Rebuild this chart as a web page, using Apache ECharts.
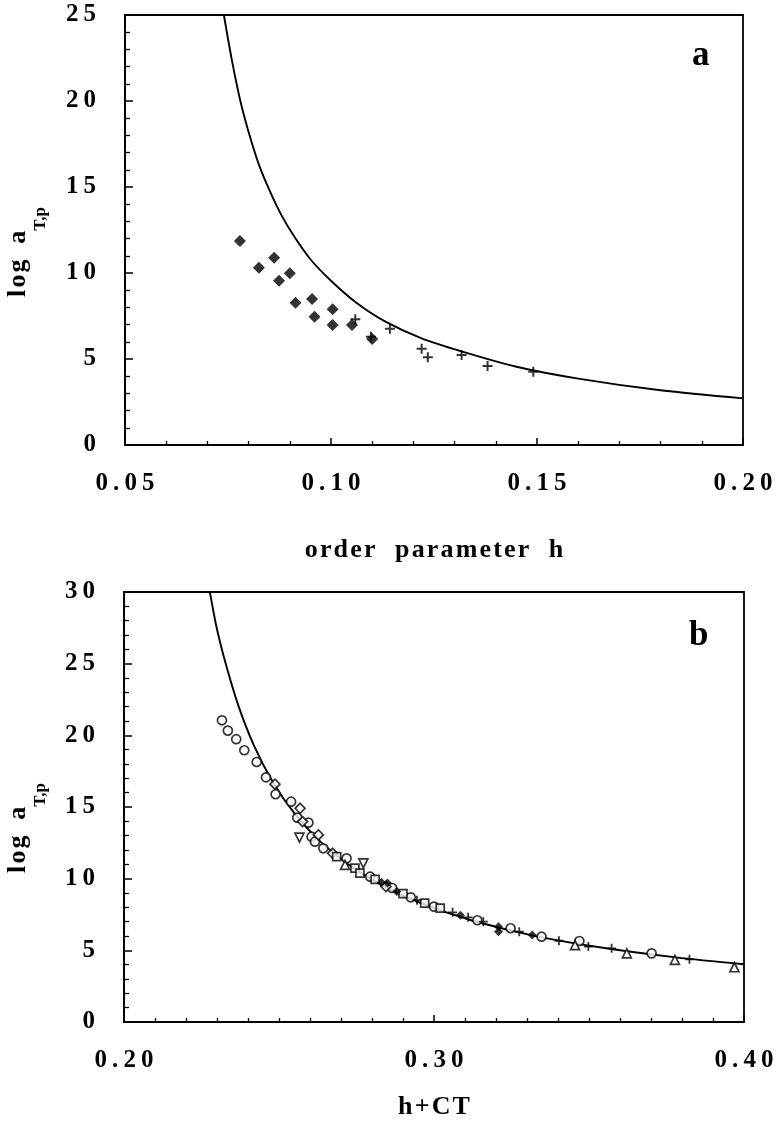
<!DOCTYPE html>
<html>
<head>
<meta charset="utf-8">
<script src="https://cdn.jsdelivr.net/npm/echarts@6/dist/echarts.min.js"></script>
<style>
html,body{margin:0;padding:0;background:#fff;}
#c{width:780px;height:1144px;}
</style>
</head>
<body>
<div id="c"></div>
<script>
// ---------- Panel a data ----------
const aCurve = [[0.0740,25.0],[0.0760,22.3],[0.0780,20.0],[0.0800,18.2],[0.0825,16.3],[0.0850,14.85],[0.0880,13.35],[0.0910,12.15],[0.0950,10.8],[0.1000,9.55],[0.1060,8.3],[0.1130,7.2],[0.1220,6.2],[0.1320,5.42],[0.1450,4.55],[0.1600,3.86],[0.1800,3.18],[0.2000,2.71]];
const aDiamonds = [[0.0779,11.86],[0.0825,10.31],[0.0862,10.89],[0.0874,9.55],[0.0900,9.98],[0.0914,8.27],[0.0954,8.49],[0.0960,7.46],[0.1004,7.89],[0.1004,6.98],[0.1051,6.98],[0.1100,6.16]];
const aCrosses = [[0.1059,7.31],[0.1097,6.30],[0.1143,6.76],[0.1220,5.60],[0.1235,5.10],[0.1317,5.23],[0.1380,4.59],[0.1491,4.26]];

// ---------- Panel b data ----------
const bCurve = [[0.2277,30.0],[0.2300,27.4],[0.2330,24.85],[0.2370,22.0],[0.2420,19.25],[0.2480,16.75],[0.2550,14.55],[0.2630,12.65],[0.2720,11.05],[0.2830,9.57],[0.2960,8.27],[0.3120,7.1],[0.3320,6.03],[0.3550,5.16],[0.3780,4.51],[0.4000,4.03]];
const bCircles = [[0.2316,21.05],[0.2335,20.33],[0.2362,19.73],[0.2388,18.96],[0.2428,18.14],[0.2458,17.07],[0.2489,15.89],[0.2539,15.37],[0.2559,14.26],[0.2595,13.91],[0.2605,12.93],[0.2616,12.58],[0.2643,12.12],[0.2718,11.42],[0.2794,10.14],[0.2865,9.35],[0.2925,8.7],[0.3000,8.05],[0.3140,7.1],[0.3247,6.54],[0.3347,5.95],[0.3469,5.65],[0.3702,4.79]];
const bDiamondsOpen = [[0.2487,16.59],[0.2568,14.91],[0.2576,13.98],[0.2627,13.05],[0.2673,11.77],[0.2845,9.45]];
const bSquaresOpen = [[0.2686,11.54],[0.2745,10.73],[0.2761,10.38],[0.2810,9.95],[0.2900,8.95],[0.2970,8.3],[0.3020,7.95]];
const bTrianglesDown = [[0.2566,12.86],[0.2772,11.07]];
const bTrianglesUp = [[0.2713,10.96],[0.3455,5.37],[0.3622,4.79],[0.3777,4.33],[0.3969,3.82]];
const bCrosses = [[0.2945,8.5],[0.3060,7.65],[0.3110,7.3],[0.3159,7.0],[0.3275,6.30],[0.3403,5.67],[0.3498,5.26],[0.3573,5.14],[0.3824,4.37]];
const bFilled = [[0.2830,9.75],[0.2850,9.7],[0.2880,9.1],[0.3085,7.45],[0.3208,6.65],[0.3208,6.30],[0.3317,6.07]];

// ---------- Axis ticks & texts ----------
const aXTicks = {min:0.05, max:0.20, interval:0.05, minor:5};
const aYTicks = {min:0, max:25, interval:5, minor:5};
const bXTicks = {min:0.20, max:0.40, interval:0.10, minor:10};
const bYTicks = {min:0, max:30, interval:5, minor:5};
const aXTitle = 'order parameter h';
const bXTitle = 'h+CT';
const yTitleMain = 'log a';
const yTitleSub = 'T,p';

const FONT = 'Liberation Serif';
const spaced = s => String(s).split('').join('\u2009');
const sp = s => s.split(' ').map(w => w.split('').join('\u200A')).join('   ');

const plus = 'path://M4,0h2v4h4v2h-4v4h-2v-4h-4v-2h4z';

function xAxis(gridIndex, t, name, gap) {
  return {
    type:'value', gridIndex, min:t.min, max:t.max, interval:t.interval,
    name: name, nameLocation:'middle', nameGap: gap,
    nameTextStyle:{fontFamily:FONT, fontWeight:'bold', fontSize:26, color:'#000'},
    axisLine:{show:true, onZero:false, lineStyle:{color:'#000', width:1.8}},
    axisTick:{show:true, inside:true, length:7, lineStyle:{color:'#000', width:1.5}},
    minorTick:{show:true, splitNumber:t.minor, length:4, lineStyle:{color:'#000', width:1.3}},
    splitLine:{show:false},
    axisLabel:{margin:26, fontFamily:FONT, fontWeight:'bold', fontSize:25, color:'#000',
      formatter: v => spaced(v.toFixed(2)), showMinLabel:true, showMaxLabel:true}
  };
}
function yAxis(gridIndex, t) {
  return {
    type:'value', gridIndex, min:t.min, max:t.max, interval:t.interval,
    axisLine:{show:true, onZero:false, lineStyle:{color:'#000', width:1.8}},
    axisTick:{show:true, inside:true, length:8, lineStyle:{color:'#000', width:1.5}},
    minorTick:{show:true, splitNumber:t.minor, length:5, lineStyle:{color:'#000', width:1.3}},
    splitLine:{show:false},
    axisLabel:{margin:29, fontFamily:FONT, fontWeight:'bold', fontSize:25, color:'#000',
      formatter: v => spaced(v)}
  };
}
function yTitle(x, y) {
  return {
    type:'text', x:x, y:y, rotation:Math.PI/2,
    style:{
      text:'{m|' + sp(yTitleMain).replace('   ', '\u2009\u2009\u2009') + '}{s|' + yTitleSub + '}',
      align:'center', verticalAlign:'middle',
      rich:{
        m:{fontFamily:FONT, fontWeight:'bold', fontSize:26, fill:'#000', lineHeight:26, verticalAlign:'top'},
        s:{fontFamily:FONT, fontWeight:'bold', fontSize:17, fill:'#000', lineHeight:44, verticalAlign:'bottom'}
      }
    }
  };
}

function scatter(x, y, data, symbol, size, filled) {
  return {
    type:'scatter', xAxisIndex:x, yAxisIndex:y, data, symbol, symbolSize:size,
    itemStyle: filled ? {color:'#000'} : {color:'#fff', borderColor:'#000', borderWidth:1.7},
    z: 3
  };
}

const chart = echarts.init(document.getElementById('c'), null, {renderer:'canvas'});
chart.setOption({
  backgroundColor:'#fff',
  animation:false,
  grid:[
    {left:125, top:15, width:618, height:430, show:true, borderColor:'#000', borderWidth:1.8, backgroundColor:'transparent'},
    {left:124, top:592, width:620, height:430, show:true, borderColor:'#000', borderWidth:1.8, backgroundColor:'transparent'}
  ],
  xAxis:[
    xAxis(0, aXTicks, sp(aXTitle), 92),
    xAxis(1, bXTicks, sp(bXTitle), 72)
  ],
  yAxis:[ yAxis(0, aYTicks), yAxis(1, bYTicks) ],
  graphic:[
    {type:'text', left:692, top:38, style:{text:'a', font:'bold 35px "Liberation Serif"', fill:'#000'}},
    {type:'text', left:689, top:618, style:{text:'b', font:'bold 35px "Liberation Serif"', fill:'#000'}},
    yTitle(27, 252),
    yTitle(27, 828)
  ],
  series:[
    {type:'line', xAxisIndex:0, yAxisIndex:0, data:aCurve, smooth:0.3, showSymbol:false, symbol:'none',
     lineStyle:{color:'#000', width:1.9}, z:2},
    scatter(0,0,aDiamonds,'diamond',12,true),
    scatter(0,0,aCrosses,plus,10,true),
    {type:'line', xAxisIndex:1, yAxisIndex:1, data:bCurve, smooth:0.3, showSymbol:false, symbol:'none',
     lineStyle:{color:'#000', width:1.9}, z:2},
    scatter(1,1,bCircles,'circle',9,false),
    scatter(1,1,bDiamondsOpen,'diamond',10,false),
    scatter(1,1,bSquaresOpen,'rect',8,false),
    scatter(1,1,bTrianglesDown,'path://M0,0L10,0L5,9z',9,false),
    scatter(1,1,bTrianglesUp,'triangle',9,false),
    scatter(1,1,bCrosses,plus,9,true),
    scatter(1,1,bFilled,'diamond',9,true)
  ]
});
</script>
</body>
</html>
